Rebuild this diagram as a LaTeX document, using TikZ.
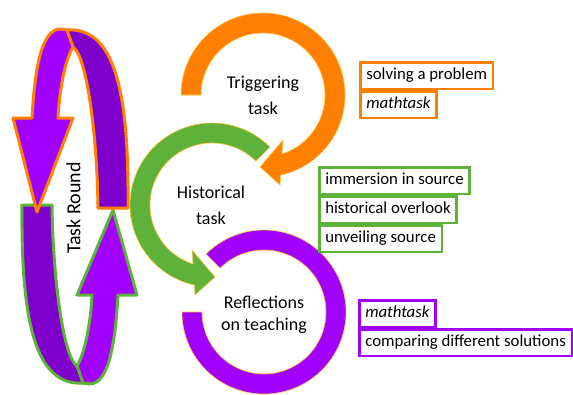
\documentclass[tikz,border=0pt]{standalone}
\usepackage{fontspec}
\setmainfont{Carlito}
\usetikzlibrary{calc}
\definecolor{orangeC}{RGB}{255,127,0}
\definecolor{greenC}{RGB}{94,178,58}
\definecolor{purpleL}{RGB}{161,0,255}
\definecolor{purpleD}{RGB}{127,0,204}
\definecolor{goldC}{RGB}{255,196,60}
\newcommand{\roundloop}[2]{%
  \filldraw[fill=purpleD, draw=#1, line width=3pt, line join=round]
    (66,30) .. controls (116,26) and (129,95) .. (128,208) -- (98,208)
    .. controls (97,130) and (86,55) .. (73,47) -- cycle;
  \filldraw[fill=purpleL, draw=#1, line width=3pt, line join=round]
    (58,118) -- (73,118) -- (37,#2) -- (13,118) -- (32,118)
    .. controls (35,65) and (42,30) .. (60,29) -- (67,30) -- (73,47)
    .. controls (64,62) and (59,95) .. (58,118) -- cycle;
}
\tikzset{
  ring/.style={draw=goldC, line width=0.6pt, line join=round},
  tbox/.style={draw, line width=2.6pt, fill=white, anchor=north west,
    inner xsep=6pt, inner ysep=0pt, minimum height=26.5pt,
    text height=11.5pt, text depth=3.5pt,
    font=\fontsize{16.8}{18}\selectfont},
  lbl/.style={align=center, inner sep=0pt}
}
\begin{document}
\begin{tikzpicture}[x=1pt,y=-1pt]
\useasboundingbox (0,0) rectangle (573,394);
% left task round loops
\begin{scope}[rotate around={180:(75,206.5)}]
  \roundloop{greenC}{203}
\end{scope}
\roundloop{orangeC}{212}
\node[rotate=90, inner sep=0pt, font=\fontsize{20}{24}\selectfont] (tr) at (73.5,208) {Task Round};
% ring centres
\coordinate (O) at (263,95);
\coordinate (G) at (212,205);
\coordinate (P) at (264,312);
% orange ring arrow
\filldraw[ring, fill=orangeC] ($(O)+(180:82pt)$) arc[start angle=180, end angle=-77.7, radius=82pt]
  -- (280,185) -- (260,167) -- (283,140) -- ($(O)+(-72.2:62pt)$)
  arc[start angle=-72.2, end angle=180, radius=62pt] -- cycle;
% green ring arrow
\filldraw[ring, fill=greenC] ($(G)+(45:82pt)$) arc[start angle=45, end angle=257.7, radius=82pt]
  -- (195,295) -- (215,277) -- (192,250) -- ($(G)+(252.2:62pt)$)
  arc[start angle=252.2, end angle=45, radius=62pt] -- cycle;
% purple ring
\filldraw[ring, fill=purpleL] ($(P)+(180:82pt)$) arc[start angle=180, end angle=495, radius=82pt]
  -- ($(P)+(135:62pt)$) arc[start angle=135, end angle=-180, radius=62pt] -- cycle;
% ring labels
\node[lbl, font=\fontsize{18}{26}\selectfont] (trig) at (263,95) {Triggering\\task};
\node[lbl, font=\fontsize{18}{26}\selectfont] (hist) at (211,205) {Historical\\task};
\node[lbl, font=\fontsize{18}{21.5}\selectfont] (refl) at (264,315) {Reflections\\on teaching};
% boxes
\node[tbox, draw=orangeC] (o1) at (359,61) {solving a problem};
\node[tbox, draw=orangeC] (o2) at (o1.south west) {\textit{mathtask}};
\node[tbox, draw=greenC] (g1) at (318,166) {immersion in source};
\node[tbox, draw=greenC] (g2) at (g1.south west) {historical overlook};
\node[tbox, draw=greenC] (g3) at (g2.south west) {unveiling source};
\node[tbox, draw=purpleL] (p1) at (358,299) {\textit{mathtask}};
\node[tbox, draw=purpleL] (p2) at (p1.south west) {comparing different solutions};
\end{tikzpicture}
\end{document}
